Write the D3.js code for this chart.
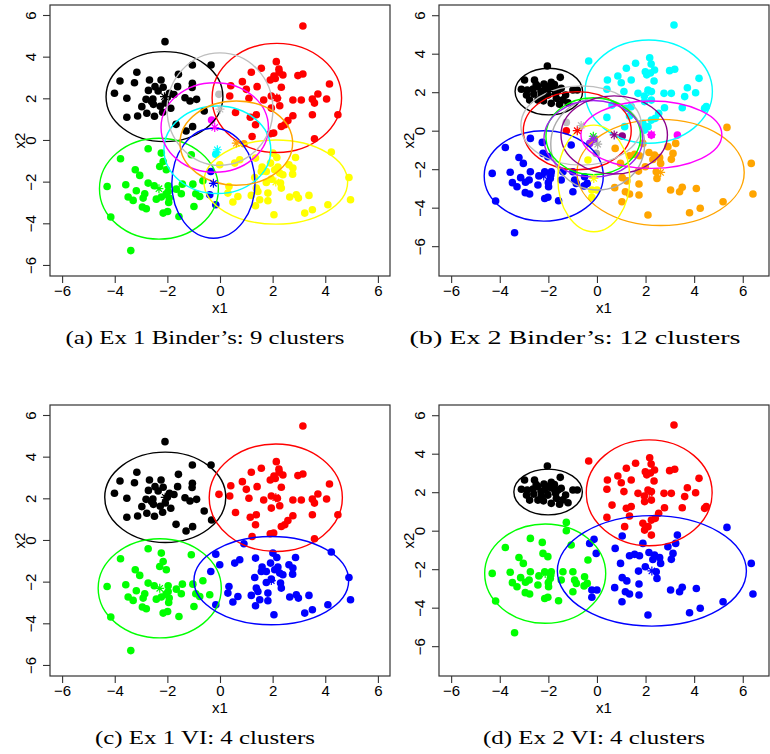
<!DOCTYPE html>
<html><head><meta charset="utf-8">
<script src="https://cdn.jsdelivr.net/npm/d3@7"></script>
<style>body{margin:0;background:#fff}svg{display:block}</style>
</head><body><svg id="c" width="770" height="754"></svg>
<script>
// ---------------- DATA ----------------
const xTicks = [-6, -4, -2, 0, 2, 4, 6];
const yTicks = [-6, -4, -2, 0, 2, 4, 6];
const captions = ["(a) Ex 1 Binder\u2019s: 9 clusters", "(b) Ex 2 Binder\u2019s: 12 clusters",
                  "(c) Ex 1 VI: 4 clusters", "(d) Ex 2 VI: 4 clusters"];

// Example 1 points: [x1, x2, Binder cluster id]; VI cluster = array
// Binder ids: 0 black,1 red,2 green,3 yellow,4 blue,5 cyan,6 magenta,7 gray,8 orange
const ex1Black = [[-2.09,4.72,0],[-1.05,3.60,0],[-0.34,3.60,0],[-3.16,3.25,0],[-1.58,3.15,0],[-3.80,2.83,0],[-3.25,2.75,0],[-2.68,2.88,0],[-2.24,2.88,0],[-1.05,2.72,0],[-1.06,2.52,0],[-1.61,2.56,0],[-2.47,2.56,0],[-2.16,2.53,0],[-2.72,2.38,0],[-4.01,2.24,0],[-3.54,2.00,0],[-2.81,1.95,0],[-2.55,1.97,0],[-1.92,2.24,0],[-1.75,2.18,0],[-1.33,2.03,0],[-1.14,1.87,0],[-0.89,1.95,0],[-2.97,1.60,0],[-2.53,1.71,0],[-2.27,1.62,0],[-2.08,1.78,0],[-1.87,1.52,0],[-2.18,1.33,0],[-2.78,1.28,0],[-3.13,1.15,0],[-3.54,1.09,0],[-2.49,1.14,0],[-1.67,0.75,0],[-0.60,1.39,0],[-1.04,0.64,0],[-1.29,0.43,0],[-0.32,0.96,6],[-2.35,2.35,0],[-2.00,2.05,0],[-2.60,1.85,0]];
const ex1Red = [[3.15,5.47,1],[2.14,3.76,1],[1.57,3.44,1],[2.24,3.40,1],[1.19,3.25,1],[2.39,3.12,1],[2.05,3.07,1],[1.91,2.88,1],[2.96,3.09,1],[3.15,3.17,1],[0.85,2.80,1],[0.41,2.60,1],[4.16,2.69,1],[2.33,2.53,1],[1.41,2.56,1],[1.00,2.43,1],[0.37,2.11,1],[-0.04,2.19,7],[1.10,2.00,1],[1.66,1.92,1],[1.95,2.11,1],[2.18,2.00,1],[2.77,1.92,1],[3.09,1.92,1],[3.72,2.21,1],[3.51,1.96,1],[3.59,1.77,1],[4.05,1.97,1],[1.95,1.53,1],[2.27,1.64,1],[0.59,1.32,1],[1.15,1.09,1],[1.38,1.21,1],[3.51,1.21,1],[4.48,1.21,1],[2.77,1.16,1],[2.58,0.93,1],[2.46,0.73,1],[2.33,0.65,1],[1.35,0.73,1],[2.04,0.33,1],[1.91,0.30,1],[1.22,0.17,1],[3.59,0.06,1],[2.10,2.95,1],[2.25,3.25,1]];
const ex1Green = [[-2.73,-0.42,2],[-2.23,-0.63,2],[-1.09,-0.71,2],[-3.78,-0.90,2],[-2.16,-1.03,2],[-2.29,-1.27,2],[-2.04,-1.43,2],[-3.22,-1.43,2],[-3.05,-1.70,2],[-0.65,-1.96,2],[-2.73,-2.07,2],[-1.43,-2.12,2],[-1.03,-2.12,2],[-1.97,-2.20,2],[-4.29,-2.23,2],[-3.58,-2.15,2],[-3.18,-2.44,2],[-3.49,-2.74,2],[-3.30,-2.90,2],[-2.86,-2.58,2],[-2.92,-2.79,2],[-2.42,-2.84,2],[-2.23,-2.74,2],[-1.97,-2.47,2],[-1.93,-2.79,2],[-1.66,-2.36,2],[-1.47,-2.58,2],[-0.92,-2.58,2],[-0.77,-2.71,2],[-0.39,-2.63,4],[-2.95,-3.22,2],[-2.80,-3.30,2],[-0.99,-3.19,2],[-2.16,-3.51,2],[-1.99,-3.43,2],[-1.56,-3.67,2],[-4.15,-3.70,2],[-3.39,-5.31,2],[-1.95,-3.00,2],[-2.05,-2.60,2],[-2.50,-2.20,2]];
const ex1Blue = [[0.91,-0.18,8],[4.23,-0.58,3],[-0.16,-0.68,5],[2.01,-0.63,3],[2.16,-0.84,3],[2.87,-0.84,3],[1.35,-0.87,3],[-0.01,-1.19,3],[0.75,-0.95,3],[0.56,-1.11,3],[1.92,-1.11,3],[2.62,-1.19,3],[2.77,-1.35,3],[-0.35,-1.51,4],[1.57,-1.51,3],[1.76,-1.51,3],[2.08,-1.43,3],[2.27,-1.59,3],[2.39,-1.67,3],[2.76,-1.64,3],[1.32,-1.80,3],[4.90,-1.80,3],[1.95,-1.88,3],[1.76,-2.04,3],[2.30,-2.07,3],[2.33,-2.31,3],[0.34,-2.23,3],[1.38,-2.31,3],[1.44,-2.47,3],[0.30,-2.55,3],[1.82,-2.55,3],[0.68,-2.71,3],[1.19,-2.66,3],[2.65,-2.74,3],[2.90,-2.63,3],[2.98,-2.79,3],[3.38,-2.66,3],[1.51,-2.87,3],[1.82,-2.92,3],[0.49,-2.98,3],[-0.16,-3.11,4],[1.35,-3.16,3],[4.96,-2.87,3],[4.10,-3.11,3],[3.51,-3.35,3],[3.22,-3.51,3],[2.05,-3.59,3],[2.20,-1.30,3],[1.60,-1.30,3]];

// Example 2 points: [x1, x2, Binder cluster id]
// Binder ids: 0 black,1 cyan,2 orange,3 blue,4 red,5 gray,6 darkgray,7 green,8 purple,9 darkmagenta,10 magenta,11 yellow
const ex2Black = [[-2.04,3.36,0],[-1.51,2.77,0],[-2.98,2.63,0],[-2.57,2.63,0],[-2.18,2.42,0],[-1.88,2.51,0],[-3.11,2.15,0],[-2.87,2.11,0],[-2.63,2.16,0],[-2.43,2.29,0],[-2.15,2.11,0],[-1.81,2.20,0],[-1.60,2.11,0],[-1.47,2.20,0],[-0.99,2.11,0],[-0.81,2.11,0],[-2.29,1.80,0],[-2.02,1.85,0],[-1.29,1.85,0],[-2.77,1.59,0],[-2.43,1.59,0],[-1.88,1.42,0],[-1.54,1.37,0],[-1.19,1.45,0],[-1.67,1.68,0],[-2.60,1.90,0],[-2.30,2.05,0],[-1.95,2.30,0],[-1.70,1.95,0],[-2.90,1.85,0],[-1.40,1.60,0],[-2.20,1.55,0],[-1.75,2.40,0],[-2.50,2.40,0]];
const ex2Red = [[3.17,5.49,1],[-0.34,3.62,1],[2.17,3.79,1],[1.59,3.50,1],[1.21,3.24,1],[2.23,3.46,1],[2.37,3.15,1],[1.99,3.06,1],[2.99,3.12,1],[3.20,3.19,1],[0.86,2.84,1],[0.43,2.63,1],[1.41,2.63,1],[1.00,2.49,1],[2.35,2.58,1],[4.20,2.72,1],[0.41,2.15,1],[1.11,2.03,1],[1.69,1.94,1],[2.10,2.11,1],[2.24,2.03,1],[1.95,1.80,1],[2.76,1.94,1],[3.06,1.94,1],[3.72,2.23,1],[3.61,1.77,1],[4.06,1.97,1],[3.51,1.19,1],[1.96,1.51,1],[2.24,1.59,1],[0.62,1.33,1],[1.21,1.16,1],[1.41,1.25,1],[1.34,0.76,1],[0.41,0.69,1],[2.78,1.19,1],[2.54,0.90,1],[2.40,0.64,1],[2.24,0.55,1],[4.43,1.16,1],[4.50,1.25,1],[1.89,0.38,1],[2.10,0.21,1],[1.14,0.21,1],[2.24,-0.23,10],[1.96,0.03,1],[2.20,3.00,1],[2.05,2.90,1]];
const ex2Green = [[-1.26,0.43,5],[-1.26,0.00,4],[-2.74,-0.40,3],[-2.25,-0.61,3],[-1.06,-0.74,3],[-3.77,-0.87,3],[-2.22,-1.18,3],[-2.02,-1.35,3],[-3.21,-1.39,3],[-3.03,-1.70,3],[-0.37,-1.52,11],[-2.74,-2.13,3],[-2.15,-2.13,3],[-1.88,-2.13,3],[-1.40,-2.13,3],[-0.99,-2.13,3],[-4.31,-2.22,3],[-3.57,-2.16,3],[-3.14,-2.44,3],[-2.39,-2.35,3],[-1.92,-2.48,3],[-1.47,-2.56,3],[-0.92,-2.56,3],[-0.51,-2.39,3],[-0.40,-2.74,3],[-3.48,-2.70,3],[-3.29,-2.91,3],[-2.94,-2.68,3],[-2.79,-2.56,3],[-2.43,-2.82,3],[-1.99,-2.91,3],[-0.85,-2.74,3],[-0.53,-2.87,3],[-2.95,-3.22,3],[-2.77,-3.29,3],[-0.99,-3.17,3],[-2.15,-3.52,3],[-2.02,-3.46,3],[-1.58,-3.64,3],[-4.17,-3.65,3],[-3.39,-5.30,3],[-2.00,-2.70,3],[-1.90,-2.30,3]];
const ex2Blue = [[5.35,0.17,2],[-0.12,-0.45,8],[-0.30,-0.66,8],[-0.03,-1.18,6],[1.04,-0.28,9],[1.89,-0.66,2],[0.75,-0.92,2],[3.31,-0.23,10],[3.24,-0.66,2],[2.92,-0.83,2],[3.13,-1.18,2],[3.06,-1.49,2],[1.34,-1.30,2],[1.55,-1.23,2],[1.75,-1.30,2],[2.14,-1.13,2],[2.37,-1.26,2],[2.58,-1.40,2],[2.62,-1.70,2],[0.97,-1.70,2],[1.99,-1.87,2],[1.71,-2.10,2],[2.44,-2.13,2],[2.47,-2.48,2],[1.04,-2.44,2],[1.23,-2.61,2],[1.73,-2.77,2],[0.73,-2.96,2],[-0.21,-3.08,11],[0.00,-3.08,11],[-0.21,-3.46,11],[1.17,-3.17,2],[1.34,-3.29,2],[1.03,-3.69,2],[1.73,-3.34,2],[3.03,-3.08,2],[3.40,-3.17,2],[3.51,-2.94,2],[4.09,-3.00,2],[6.35,-1.70,2],[6.42,-3.29,2],[5.19,-3.69,2],[4.25,-4.03,2],[3.81,-4.26,2],[2.10,-4.38,2],[2.30,-1.50,2]];

// Cluster summaries: [centre x1, centre x2, half-width x1, half-height x2]
const ex1BinderEll = [[-2.11,2.08,2.22,2.16],[2.16,2.02,2.46,2.62],[-2.32,-2.34,2.26,2.42],[2.12,-2.02,2.73,2.02],[-0.25,-2.08,1.58,2.64],[-0.10,-0.47,2.03,2.10],[-0.20,0.60,2.04,2.15],[0.00,1.48,2.01,2.70],[0.62,-0.15,2.14,2.02]];
const ex1VIEll = [[-2.08,2.05,2.30,2.17],[2.12,2.03,2.53,2.58],[-2.29,-2.32,2.34,2.38],[1.95,-1.95,2.94,2.12]];
const ex2BinderEll = [[-1.98,2.03,1.39,1.21],[2.13,2.03,2.62,2.68],[2.62,-2.17,3.44,2.76],[-2.19,-2.35,2.45,2.35],[-0.81,0.00,2.22,2.03],[-0.65,0.27,2.48,2.06],[0.03,-0.70,1.93,2.38],[-0.15,-0.29,1.95,2.00],[-0.15,-0.42,2.03,1.99],[0.71,-0.22,2.19,2.03],[2.24,-0.21,2.90,1.75],[-0.13,-2.48,1.48,2.77]];
const ex2VIEll = [[-2.01,2.01,1.41,1.19],[2.15,1.97,2.59,2.75],[-2.13,-2.23,2.49,2.58],[2.26,-2.09,3.89,2.87]];

// Colour palettes (R colour names)
const palEx1Binder = ["#000000","#FF0000","#00FF00","#FFFF00","#0000FF","#00FFFF","#FF00FF","#BEBEBE","#FFA500"];
const palEx2Binder = ["#000000","#00FFFF","#FFA500","#0000FF","#FF0000","#BEBEBE","#A9A9A9","#00FF00","#A020F0","#8B008B","#FF00FF","#FFFF00"];
const palVI = ["#000000","#FF0000","#00FF00","#0000FF"];

// ---------------- DRAW ----------------
const svg = d3.select("#c");
const ex1All = [ex1Black, ex1Red, ex1Green, ex1Blue].flatMap((a, vi) => a.map(p => ({x:p[0], y:p[1], b:p[2], v:vi})));
const ex2All = [ex2Black, ex2Red, ex2Green, ex2Blue].flatMap((a, vi) => a.map(p => ({x:p[0], y:p[1], b:p[2], v:vi})));

const panels = [
  {box:[50,5,390,276], xd:[-6.46,6.46], yd:[-6.53,6.48], pts:ex1All, key:"b", ell:ex1BinderEll, pal:palEx1Binder, cap:captions[0], capX:205, capW:279, capY:344},
  {box:[439,5,769,276], xd:[-6.5,7.08], yd:[-7.55,6.53], pts:ex2All, key:"b", ell:ex2BinderEll, pal:palEx2Binder, cap:captions[1], capX:575, capW:331, capY:344},
  {box:[50,405,390,676], xd:[-6.46,6.46], yd:[-6.53,6.48], pts:ex1All, key:"v", ell:ex1VIEll, pal:palVI, cap:captions[2], capX:205, capW:220, capY:744},
  {box:[439,405,769,676], xd:[-6.5,7.08], yd:[-7.55,6.53], pts:ex2All, key:"v", ell:ex2VIEll, pal:palVI, cap:captions[3], capX:594, capW:222, capY:744}
];
const fmt = d => (d < 0 ? "\u2212" + Math.abs(d) : String(d));
const sans = "Liberation Sans, Arial, sans-serif";

panels.forEach(P => {
  const [l, t, r, b] = P.box;
  const x = d3.scaleLinear().domain(P.xd).range([l, r]);
  const y = d3.scaleLinear().domain(P.yd).range([b, t]);
  const g = svg.append("g");

  // points
  g.append("g").selectAll("circle").data(P.pts).join("circle")
    .attr("cx", d => x(d.x)).attr("cy", d => y(d.y)).attr("r", 3.8)
    .attr("fill", d => P.pal[d[P.key]]);

  // ellipses
  g.append("g").selectAll("ellipse").data(P.ell).join("ellipse")
    .attr("cx", d => x(d[0])).attr("cy", d => y(d[1]))
    .attr("rx", d => x(d[0] + d[2]) - x(d[0])).attr("ry", d => y(d[1]) - y(d[1] + d[3]))
    .attr("fill", "none").attr("stroke", (d, i) => P.pal[i]).attr("stroke-width", 1.4);

  // centre stars (pch 8)
  const star = "M-4.5,0H4.5M0,-4.5V4.5M-3.2,-3.2L3.2,3.2M-3.2,3.2L3.2,-3.2";
  g.append("g").selectAll("path").data(P.ell).join("path")
    .attr("d", star).attr("transform", d => `translate(${x(d[0])},${y(d[1])})`)
    .attr("fill", "none").attr("stroke", (d, i) => P.pal[i]).attr("stroke-width", 1.2);

  // box
  g.append("rect").attr("x", l).attr("y", t).attr("width", r - l).attr("height", b - t)
    .attr("fill", "none").attr("stroke", "#333").attr("stroke-width", 1.2);

  // x axis
  const ax = g.append("g").attr("transform", `translate(0,${b})`)
    .call(d3.axisBottom(x).tickValues(xTicks).tickSize(7).tickPadding(2).tickFormat(fmt));
  ax.select(".domain").remove();
  ax.selectAll("line").attr("stroke", "#333").attr("stroke-width", 1.1);
  ax.selectAll("text").attr("font-family", sans).attr("font-size", 15).attr("fill", "#000");

  // y axis (rotated labels like R las=0)
  const ay = g.append("g").attr("transform", `translate(${l},0)`)
    .call(d3.axisLeft(y).tickValues(yTicks).tickSize(7).tickFormat(fmt));
  ay.select(".domain").remove();
  ay.selectAll("line").attr("stroke", "#333").attr("stroke-width", 1.1);
  ay.selectAll("text").attr("x", null).attr("dy", null).attr("text-anchor", "middle")
    .attr("transform", "translate(-14,0) rotate(-90)")
    .attr("font-family", sans).attr("font-size", 15).attr("fill", "#000");

  // axis titles
  svg.append("text").attr("x", (l + r) / 2).attr("y", b + 37).attr("text-anchor", "middle")
    .attr("font-family", sans).attr("font-size", 15).text("x1");
  svg.append("text").attr("transform", `translate(${l - 25},${(t + b) / 2}) rotate(-90)`).attr("text-anchor", "middle")
    .attr("font-family", sans).attr("font-size", 15).text("x2");

  // caption
  svg.append("text").attr("x", P.capX).attr("y", P.capY).attr("text-anchor", "middle")
    .attr("font-family", "Liberation Serif, Times New Roman, serif").attr("font-size", 18.5)
    .attr("textLength", P.capW).attr("lengthAdjust", "spacingAndGlyphs").text(P.cap);
});
</script></body></html>
